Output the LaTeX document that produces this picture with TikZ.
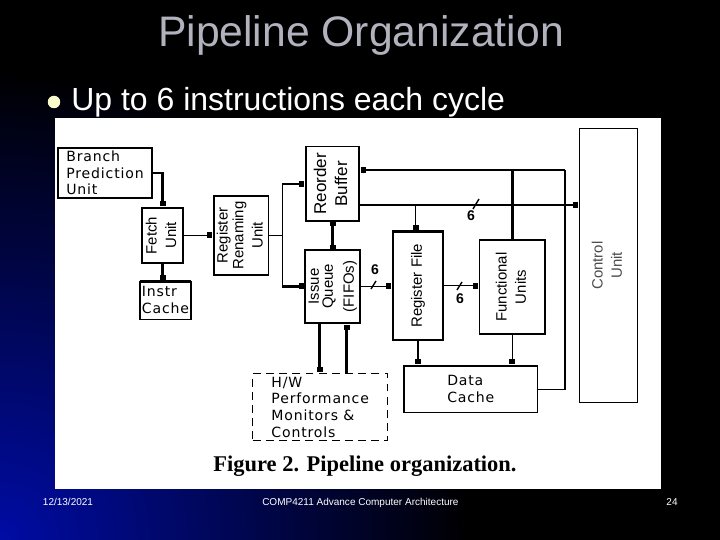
\documentclass[tikz,border=0pt]{standalone}
\usepackage{fontspec}
\setmainfont{Liberation Sans}
\newfontfamily\scanfont[LetterSpace=6]{DejaVu Sans}
\newfontfamily\capfont{Liberation Serif}
\usepackage{graphicx}
\usetikzlibrary{%
  arrows.meta,%
  positioning%
}

\definecolor{titlegray}{RGB}{178,178,190}
\definecolor{slideblue}{RGB}{0,12,165}
\definecolor{dotyellow}{RGB}{250,250,205}

\newcommand{\vlabel}[1]{\rotatebox{90}{\begin{tabular}{@{}c@{}}#1\end{tabular}}}

\tikzset{
  box/.style={draw, line width=0.9pt, inner sep=0pt, outer sep=0pt},
  heavybox/.style={box, line width=1.3pt},
  thinbox/.style={box, line width=0.6pt},
  scantext/.style={font=\scanfont\fontsize{8}{9.5}\selectfont, align=left},
  vtext/.style={font=\fontsize{8.5}{11}\selectfont},
  wire/.style={line width=0.6pt},
  bus/.style={line width=1.4pt},
  sq/.style={-{Square[length=1mm,width=1.2mm]}, shorten >=1pt},
  sqback/.style={{Square[length=1mm,width=1.2mm]}-, shorten <=1pt},
  sqboth/.style={{Square[length=1mm,width=1.2mm]}-{Square[length=1mm,width=1.2mm]}},
  num/.style={font=\bfseries\fontsize{8}{8}\selectfont, inner sep=0pt},
  tick/.style={line width=0.8pt},
  foot/.style={font=\fontsize{5.7}{7}\selectfont, text=white, anchor=base}
}

\begin{document}
\begin{tikzpicture}[x=0.02cm, y=-0.02cm]
\useasboundingbox (0,0) rectangle (720,540);
\fill[black] (0,0) rectangle (720,540);
\begin{scope}
\clip (0,0) rectangle (720,540);
\shade[inner color=slideblue, outer color=black] (0,540) circle[radius=470];
\end{scope}
\fill[white] (55,118) rectangle (661,489);

\node[font=\fontsize{24.3}{28}\selectfont, text=titlegray, anchor=base] (title) at (361,46.7) {Pipeline Organization};
\node[circle, fill=dotyellow, inner sep=0pt, minimum size=0.25cm] (dot) at (54,102) {};
\node[font=\fontsize{18.2}{20}\selectfont, text=white, anchor=base west, inner sep=0pt] (point) at (71,111) {Up to 6 instructions each cycle};

\node[thinbox, minimum width=1.88cm, minimum height=1cm, scantext] (bpu) at (105,173) {Branch\\Prediction\\Unit};
\node[heavybox, minimum width=0.81cm, minimum height=1.11cm, vtext] (fetch) at (162.5,235.5) {\vlabel{Fetch\\Unit}};
\node[thinbox, minimum width=1.02cm, minimum height=0.75cm, scantext] (icache) at (165.5,300.3) {Instr\\Cache};
\node[box, minimum width=1.08cm, minimum height=1.58cm, vtext] (rr) at (241.3,235.5) {\vlabel{Register\\[-2pt]Renaming\\Unit}};
\node[box, minimum width=1.06cm, minimum height=1.49cm, vtext, font=\fontsize{9.7}{11.5}\selectfont] (rob) at (332.5,183.8) {\vlabel{Reorder\\[0.5pt]Buffer}};
\node[heavybox, minimum width=1.06cm, minimum height=1.46cm, vtext] (iq) at (332.5,286.5) {\vlabel{Issue\\[-3pt]Queue\\[1pt](FIFOs)}};
\node[heavybox, minimum width=1.01cm, minimum height=2.17cm, vtext] (rf) at (418,285.8) {\vlabel{Register File}};
\node[box, minimum width=1.31cm, minimum height=1.88cm, vtext] (fu) at (512.3,287) {\vlabel{Functional\\Units}};
\node[thinbox, minimum width=1.16cm, minimum height=5.49cm, vtext, text=black!70] (cu) at (608.3,265.5) {\vlabel{Control\\Unit}};
\node[box, minimum width=2.67cm, minimum height=0.93cm, scantext] (dc) at (470.8,389.3) {Data\\Cache};
\node[thinbox, dash pattern=on 4.5pt off 3pt, minimum width=2.7cm, minimum height=1.35cm, scantext] (hw) at (320.2,407.2) {H/W\\Performance\\Monitors \&\\Controls};
\draw[bus] (icache.north west) -- (icache.north east);
\draw[bus] (rr.north west) -- (rr.south west);

\draw[bus, sq] (bpu.east) -| (fetch.north);
\draw[bus, sq] (fetch.south) -- (fetch.south |- icache.north);
\draw[wire, sq] (fetch.east) -- (rr.west);
\coordinate[right=0.27cm of rr.east] (split);
\draw[wire] (rr.east) -- (split);
\draw[wire] (split |- rob) -- (split |- iq);
\draw[bus, sq] (split |- rob) -- (rob.west);
\draw[bus, sq] (split |- iq) -- (iq.west);
\draw[bus, sqboth] (rob.south) -- (iq.north);

\coordinate (busend) at (565,170);
\draw[bus, sqback] (rob.east |- busend) -- (busend);
\draw[bus] (fu.north |- busend) -- (fu.north);
\draw[wire] (busend) |- (dc.east);

\coordinate (tap) at (415.7,205);
\draw[wire, sq] (rob.east |- tap) -- (cu.west |- tap);
\draw[wire, sq] (tap) -- (tap |- rf.north);
\draw[wire, sq] (iq.east) -- (iq.east -| rf.west);
\draw[wire, sq] (rf.east) -- (rf.east -| fu.west);

\coordinate (iqa) at ([xshift=-0.26cm]iq.south);
\coordinate (iqb) at ([xshift=0.28cm]iq.south);
\draw[bus, sq] (iqa) -- (iqa |- hw.north);
\draw[bus, sqback] (iqb) -- (iqb |- hw.north);
\draw[bus, sq] (rf.south) -- (rf.south |- dc.north);
\draw[wire, sq] (fu.south) -- (fu.south |- dc.north);

\draw[tick] (473,209) -- (479,199);
\node[num] (w1) at (471,216) {6};
\draw[tick] (371,289) -- (376,281);
\node[num] (w2) at (375,270) {6};
\draw[tick] (457,290) -- (462,282);
\node[num] (w3) at (460,299) {6};

\node[font=\capfont\bfseries\fontsize{12.8}{14}\selectfont, anchor=base] (caption) at (365,471.7) {Figure 2. Pipeline organization.};

\node[foot] (date) at (68,505.7) {12/13/2021};
\node[foot] (course) at (360.4,505.7) {COMP4211 Advance Computer Architecture};
\node[foot] (page) at (672,505.7) {24};
\end{tikzpicture}
\end{document}
